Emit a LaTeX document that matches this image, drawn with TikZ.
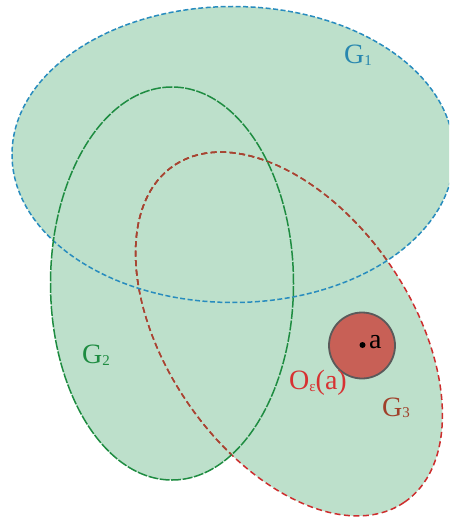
\documentclass[tikz,border=0pt]{standalone}
\usepackage{fontspec}
\setmainfont{Liberation Serif}
\definecolor{fillg}{RGB}{189,224,203}
\definecolor{gone}{RGB}{40,140,190}
\definecolor{gtwo}{RGB}{30,140,65}
\definecolor{gthreeR}{RGB}{205,45,45}
\definecolor{gthreeB}{RGB}{165,70,50}
\definecolor{ballfill}{RGB}{200,96,86}
\definecolor{ballrim}{RGB}{90,90,90}
\definecolor{labred}{RGB}{215,50,50}
\definecolor{labbrown}{RGB}{160,64,42}
\definecolor{labblue}{RGB}{40,135,175}
\tikzset{
  lab/.style={font=\fontsize{28}{32}\selectfont, inner sep=0pt},
  bordone/.style={gone, line width=1.5pt, dash pattern=on 5pt off 2.5pt},
  bordtwo/.style={gtwo, line width=1.5pt, dash pattern=on 10pt off 1.5pt},
  bordthree/.style={line width=1.5pt, dash pattern=on 6pt off 3.5pt},
}
\newcommand{\sbs}[1]{\raisebox{-1.5pt}{\fontsize{15}{15}\selectfont #1}}
\begin{document}
\begin{tikzpicture}[x=1pt,y=-1pt]
\useasboundingbox (0,0) rectangle (449,521);
\clip (0,0) rectangle (449,521);
% fills
\fill[fillg] (233,154.5) ellipse [x radius=221pt, y radius=148pt];
\fill[fillg] (172,283.5) ellipse [x radius=121.5pt, y radius=196.5pt];
\fill[fillg, shift={(289,334)}, rotate=-55.5] (0,0) ellipse [x radius=204pt, y radius=122.5pt];
% G3 border: red, brownish where it lies inside G1 or G2
\draw[bordthree, gthreeR, shift={(289,334)}, rotate=-55.5] (0,0) ellipse [x radius=204pt, y radius=122.5pt];
\begin{scope}
\clip (233,154.5) ellipse [x radius=221pt, y radius=148pt];
\draw[bordthree, gthreeB, shift={(289,334)}, rotate=-55.5] (0,0) ellipse [x radius=204pt, y radius=122.5pt];
\end{scope}
\begin{scope}
\clip (172,283.5) ellipse [x radius=121.5pt, y radius=196.5pt];
\draw[bordthree, gthreeB, shift={(289,334)}, rotate=-55.5] (0,0) ellipse [x radius=204pt, y radius=122.5pt];
\end{scope}
% G1 and G2 borders
\draw[bordone] (233,154.5) ellipse [x radius=221pt, y radius=148pt];
\draw[bordtwo] (172,283.5) ellipse [x radius=121.5pt, y radius=196.5pt];
% neighbourhood
\node[circle, minimum size=66pt, inner sep=0pt, fill=ballfill, draw=ballrim, line width=1.8pt] (ball) at (362,345.5) {};
\node[circle, fill=black, minimum size=6pt, inner sep=0pt] (pa) at (362.5,345) {};
\node[lab, black, anchor=west] (la) at (369,342) {a};
% labels
\node[lab, labblue] (g1) at (358,55) {G\sbs{1}};
\node[lab, gtwo] (g2) at (96,355) {G\sbs{2}};
\node[lab, labbrown] (g3) at (396,408) {G\sbs{3}};
\node[lab, labred] (oe) at (318,383) {O\sbs{ε}(a)};
\end{tikzpicture}
\end{document}
